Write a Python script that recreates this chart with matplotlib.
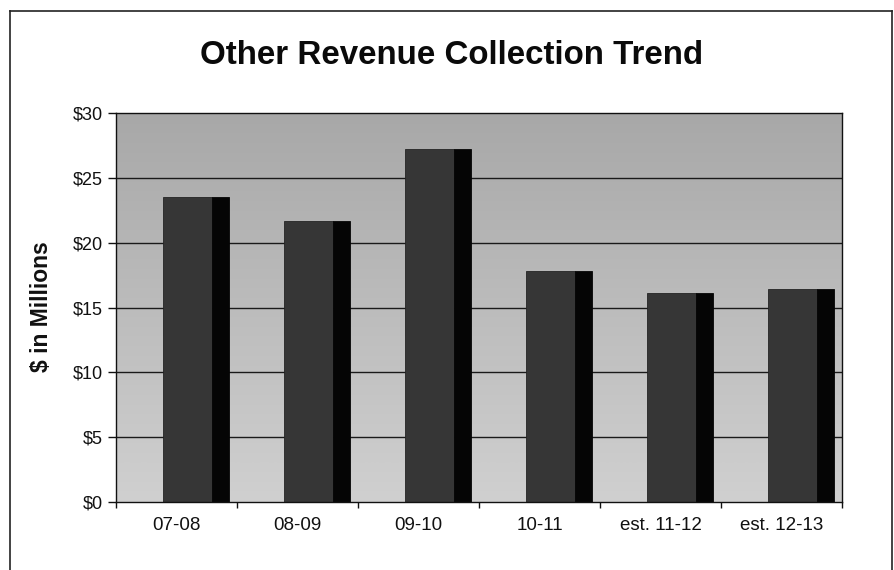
import numpy as np
import matplotlib
matplotlib.use("Agg")
import matplotlib.pyplot as plt
from matplotlib.lines import Line2D

plt.rcParams['font.family'] = ['Liberation Sans', 'DejaVu Sans']

# Data ($ in millions)
categories = ["07-08", "08-09", "09-10", "10-11", "est. 11-12", "est. 12-13"]
revenue = [23.5, 21.7, 27.2, 17.8, 16.1, 16.4]
y_ticks = [0, 5, 10, 15, 20, 25, 30]
y_tick_labels = ["$0", "$5", "$10", "$15", "$20", "$25", "$30"]

fig = plt.figure(figsize=(8.94, 5.70), dpi=100)
fig.patch.set_facecolor("white")

ax = fig.add_axes([116 / 894, 68 / 570, 726 / 894, 389 / 570])
ax.set_xlim(-0.5, len(categories) - 0.5)
ax.set_ylim(0, 30)

# Plot-area fill: gray gradient, darker at the top
grad = np.linspace(0, 1, 256).reshape(-1, 1)
ax.imshow(grad, extent=(-0.5, len(categories) - 0.5, 0, 30), origin="lower",
          aspect="auto", cmap=matplotlib.colors.LinearSegmentedColormap.from_list(
              "bg", ["#d0d0d0", "#a8a8a8"]), zorder=0)

# Horizontal gridlines
for v in y_ticks[1:-1]:
    ax.axhline(v, color="#1a1a1a", lw=1.0, zorder=1)

# Columns: a front face and a black side strip
x = np.arange(len(categories))
ax.bar(x - 0.11, revenue, width=0.40, align="edge", color="#363636",
       edgecolor="#242424", lw=0.6, zorder=3)
ax.bar(x + 0.29, revenue, width=0.14, align="edge", color="#050505",
       edgecolor="#050505", lw=0.6, zorder=3)

# Axes styling
for s in ax.spines.values():
    s.set_color("#111111")
    s.set_linewidth(1.0)
    s.set_zorder(5)

ax.set_yticks(y_ticks)
ax.set_yticklabels(y_tick_labels, fontsize=13)
ax.tick_params(axis="y", direction="out", length=6, width=1.0, pad=3.5,
               colors="#111111")

ax.set_xticks(x)
ax.set_xticklabels(categories, fontsize=13.5)
ax.tick_params(axis="x", which="major", length=0, pad=11, colors="#111111")
ax.set_xticks(np.arange(-0.5, len(categories)), minor=True)
ax.tick_params(axis="x", which="minor", direction="out", length=4.5, width=1.0,
               colors="#111111")

# Title and axis label
fig.text(452 / 894, 1 - 64 / 570, "Other Revenue Collection Trend",
         ha="center", va="baseline", fontsize=23.9, fontweight="bold",
         color="#0a0a0a")
fig.text(42 / 894, 1 - 307 / 570, "$ in Millions", rotation=90,
         ha="center", va="center", fontsize=16.5, fontweight="bold",
         color="#111111")

# Outer chart frame
frame_kw = dict(color="#222222", lw=1.2, transform=fig.transFigure)
fig.add_artist(Line2D([10 / 894, 10 / 894], [0, 1 - 11 / 570], **frame_kw))
fig.add_artist(Line2D([10 / 894, 892 / 894], [1 - 11 / 570, 1 - 11 / 570], **frame_kw))
fig.add_artist(Line2D([892 / 894, 892 / 894], [0, 1 - 11 / 570], **frame_kw))

fig.savefig("out.png", dpi=100)
